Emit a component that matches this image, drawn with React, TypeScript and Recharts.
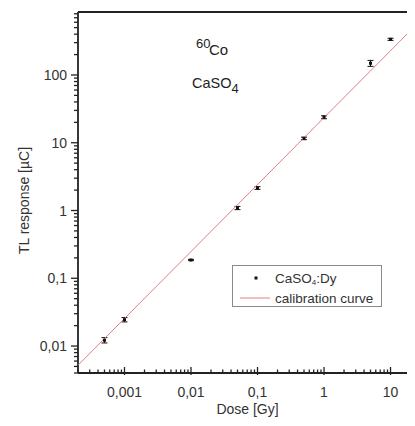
import { ErrorBar, Legend, ReferenceLine, Scatter, ScatterChart, XAxis, YAxis } from 'recharts'

// measured points (CaSO4:Dy, 60Co)
const doses = [0.0005, 0.001, 0.01, 0.05, 0.1, 0.5, 1, 5, 10]
const responses = [0.0122, 0.0245, 0.186, 1.09, 2.15, 11.6, 23.8, 149, 336]
const errors = [0.0011, 0.0018, 0.004, 0.06, 0.1, 0.5, 1.2, 15, 12]

// calibration curve, end points
const calibDose = [0.0002, 25]
const calibResponse = [0.0052, 565]

const xDomain = [0.0002, 25]
const yDomain = [0.004, 850]
const xMajor = [0.001, 0.01, 0.1, 1, 10]
const yMajor = [0.01, 0.1, 1, 10, 100]
const xDecades = [0.0001, 0.001, 0.01, 0.1, 1, 10]
const yDecades = [0.001, 0.01, 0.1, 1, 10, 100]
const topTicks = [1, 2, 3, 4, 5, 6, 7, 8, 9]
const rightTicks = [1, 2, 3, 4, 5, 6, 7, 8]

const points = doses.map((d, i) => ({ x: d, y: responses[i], err: errors[i] }))
const calib = calibDose.map((d, i) => ({ x: d, y: calibResponse[i] }))

function logTicks(decades: number[], lo: number, hi: number) {
  const out: number[] = []
  decades.forEach((d) => {
    for (let m = 1; m <= 9; m++) {
      const v = d * m
      if (v >= lo * 0.999 && v <= hi * 1.001) out.push(v)
    }
  })
  return out
}

const xTicks = logTicks(xDecades, xDomain[0], xDomain[1])
const yTicks = logTicks(yDecades, yDomain[0], yDomain[1])

const isMajor = (v: number, list: number[]) => list.some((m) => Math.abs(v / m - 1) < 1e-6)
const fmt = (v: number) => String(v).replace('.', ',')

const TEXT = '#333'
const FONT = '"Liberation Sans", Arial, sans-serif'

function BottomTick({ x, y, payload }: any) {
  const major = isMajor(payload.value, xMajor)
  return (
    <g>
      <line x1={x} x2={x} y1={y - (major ? 6 : 3.5)} y2={y + (major ? 2 : 0)} stroke='#222' strokeWidth={1.3} />
      {major && (
        <text x={x} y={y + 19} textAnchor='middle' dominantBaseline='central' fontSize={14} fill={TEXT} fontFamily={FONT}>
          {fmt(payload.value)}
        </text>
      )}
    </g>
  )
}

function LeftTick({ x, y, payload }: any) {
  const major = isMajor(payload.value, yMajor)
  return (
    <g>
      <line x1={x - (major ? 7 : 4)} x2={x} y1={y} y2={y} stroke='#222' strokeWidth={1.3} />
      {major && (
        <text x={x - 11} y={y} textAnchor='end' dominantBaseline='central' fontSize={14} fill={TEXT} fontFamily={FONT}>
          {fmt(payload.value)}
        </text>
      )}
    </g>
  )
}

function TopTick({ x, y, payload }: any) {
  const major = payload.value % 2 === 0
  return <line x1={x} x2={x} y1={y} y2={y + (major ? 6 : 3.5)} stroke='#222' strokeWidth={1.3} />
}

function RightTick({ x, y, payload }: any) {
  const major = payload.value % 2 === 0
  return <line x1={x - (major ? 6 : 3.5)} x2={x} y1={y} y2={y} stroke='#222' strokeWidth={1.3} />
}

function LegendBox() {
  return (
    <svg width={150} height={42} style={{ display: 'block' }}>
      <rect x={0.5} y={0.5} width={149} height={41} fill='#fff' stroke='#8a8a8a' />
      <rect x={22.5} y={11.5} width={3} height={3} fill='#111' />
      <text x={43} y={13} dominantBaseline='central' fontSize={13.5} fill={TEXT} fontFamily={FONT}>
        CaSO<tspan fontSize={8} dy={4}>4</tspan>
        <tspan dy={-4}>:Dy</tspan>
      </text>
      <line x1={8} x2={38} y1={33} y2={33} stroke='#e87c7c' strokeWidth={1} />
      <text x={43} y={33} dominantBaseline='central' fontSize={13.5} fill={TEXT} fontFamily={FONT}>
        calibration curve
      </text>
    </svg>
  )
}

export default function App() {
  return (
    <div style={{ position: 'relative', width: 407, height: 418, overflow: 'hidden', fontFamily: FONT }}>
      <ScatterChart width={440} height={418} margin={{ top: 3, right: 30, bottom: 23, left: 10 }}>
        <XAxis
          dataKey='x'
          type='number'
          scale='log'
          domain={xDomain}
          allowDataOverflow
          ticks={xTicks}
          interval={0}
          height={30}
          tickSize={0}
          tickMargin={0}
          tickLine={false}
          tick={<BottomTick />}
          axisLine={false}
          label={{
            content: ({ viewBox }: any) => (
              <text
                x={viewBox.x + viewBox.width / 2}
                y={viewBox.y + 36}
                textAnchor='middle'
                dominantBaseline='central'
                fontSize={14}
                fill={TEXT}
                fontFamily={FONT}
              >
                Dose [Gy]
              </text>
            ),
          }}
        />
        <XAxis
          xAxisId='top'
          orientation='top'
          type='number'
          domain={[0, 9.855]}
          allowDataOverflow
          ticks={topTicks}
          interval={0}
          height={1}
          tickSize={0}
          tickMargin={0}
          tickLine={false}
          tick={<TopTick />}
          axisLine={false}
        />
        <YAxis
          dataKey='y'
          type='number'
          scale='log'
          domain={yDomain}
          allowDataOverflow
          ticks={yTicks}
          interval={0}
          width={60}
          tickSize={0}
          tickMargin={0}
          tickLine={false}
          tick={<LeftTick />}
          axisLine={false}
          label={{
            content: ({ viewBox }: any) => {
              const cx = viewBox.x + 6
              const cy = viewBox.y + viewBox.height / 2 + 8
              return (
                <text
                  x={cx}
                  y={cy}
                  transform={`rotate(-90 ${cx} ${cy})`}
                  textAnchor='middle'
                  dominantBaseline='central'
                  fontSize={14}
                  fill={TEXT}
                  fontFamily={FONT}
                >
                  TL response [µC]
                </text>
              )
            },
          }}
        />
        <YAxis
          yAxisId='right'
          orientation='right'
          type='number'
          domain={[-0.12, 9.99]}
          allowDataOverflow
          ticks={rightTicks}
          interval={0}
          width={1}
          tickSize={0}
          tickMargin={0}
          tickLine={false}
          tick={<RightTick />}
          axisLine={false}
        />
        {/* plot frame drawn at the domain edges */}
        <ReferenceLine x={xDomain[0]} stroke='#222' strokeWidth={1.8} ifOverflow='visible' />
        <ReferenceLine x={xDomain[1]} stroke='#222' strokeWidth={1.8} ifOverflow='visible' />
        <ReferenceLine y={yDomain[0]} stroke='#222' strokeWidth={1.8} ifOverflow='visible' />
        <ReferenceLine y={yDomain[1]} stroke='#222' strokeWidth={1.8} ifOverflow='visible' />
        <Scatter
          data={calib}
          line={{ stroke: '#e87c7c', strokeWidth: 1 }}
          shape={() => <g />}
          legendType='none'
          isAnimationActive={false}
        />
        <Scatter
          data={points}
          shape={({ cx, cy }: any) => <rect x={cx - 1.5} y={cy - 1.5} width={3} height={3} fill='#111' />}
          isAnimationActive={false}
        >
          <ErrorBar dataKey='err' direction='y' width={3} stroke='#111' strokeWidth={1} isAnimationActive={false} />
        </Scatter>
        <Legend
          layout='vertical'
          align='center'
          verticalAlign='middle'
          content={() => <LegendBox />}
          wrapperStyle={{ position: 'absolute', left: 224, top: 257, width: 150, height: 42 }}
        />
      </ScatterChart>
      <svg width={407} height={418} style={{ position: 'absolute', left: 0, top: 0, pointerEvents: 'none' }}>
        <text fontFamily={FONT} fill='#222'>
          <tspan x={188} y={40} fontSize={13}>60</tspan>
          <tspan x={201} y={47} fontSize={15}>Co</tspan>
        </text>
        <text fontFamily={FONT} fill='#222' x={184} y={80} fontSize={14.5}>
          CaSO<tspan fontSize={13} dy={5}>4</tspan>
        </text>
      </svg>
    </div>
  )
}
